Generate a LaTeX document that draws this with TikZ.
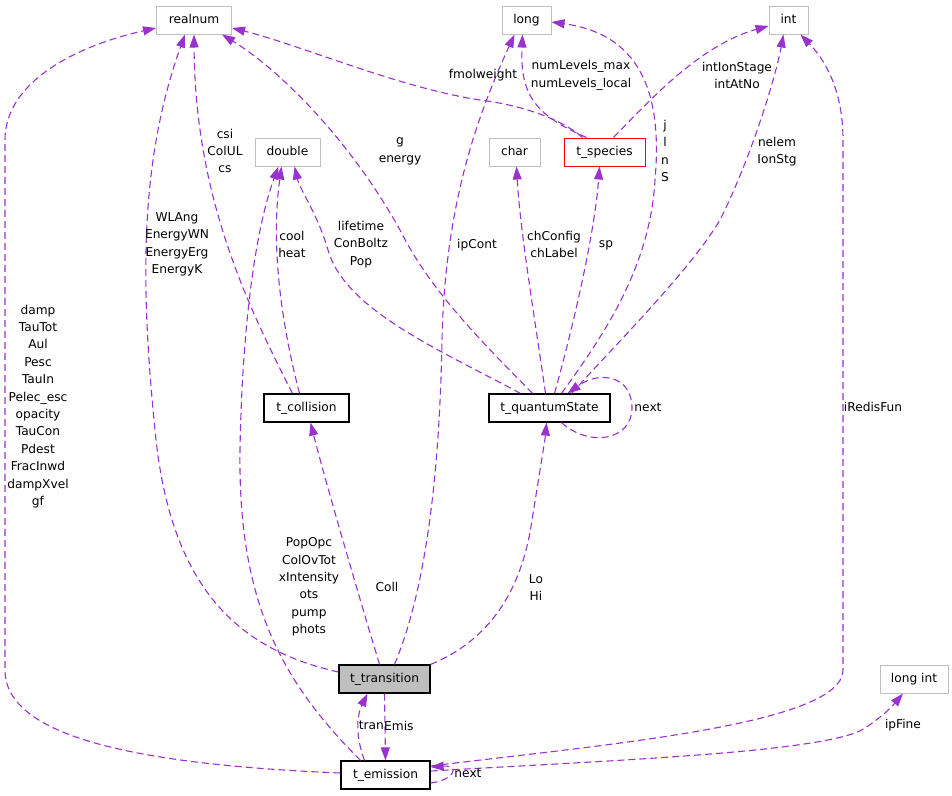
\documentclass[tikz,border=0pt]{standalone}
\usepackage{fontspec}
\setmainfont{DejaVu Sans}
\usetikzlibrary{arrows.meta}
\definecolor{edgecol}{HTML}{9A32CD}
\definecolor{boxgray}{HTML}{BFBFBF}

\begin{document}
\begin{tikzpicture}[x=1pt,y=-1pt,every node/.style={font=\fontsize{12.2}{17.4}\selectfont},
    cls/.style={draw=black,line width=1.2pt,minimum height=28pt,inner sep=0pt,text height=9pt,text depth=2.5pt},
    prim/.style={draw=boxgray,line width=1pt,minimum height=28pt,inner sep=0pt,text height=9pt,text depth=2.5pt},
    ref/.style={draw=edgecol,dash pattern=on 7pt off 4pt,line width=1.1pt,-{Triangle[length=13pt,width=9pt]}},
    lbl/.style={align=center,inner sep=0pt}]
    \useasboundingbox (0,0) rectangle (952,795);
    \node[prim,minimum width=75pt] (realnum) at (194,20) {realnum};
    \node[prim,minimum width=49pt] (tlong) at (526.5,20) {long};
    \node[prim,minimum width=39pt] (tint) at (788.5,20) {int};
    \node[prim,minimum width=65pt] (tdouble) at (287.5,152) {double};
    \node[prim,minimum width=51pt] (tchar) at (514.5,152) {char};
    \node[prim,draw=red,minimum width=81pt] (species) at (604.5,152) {t\_species};
    \node[cls,minimum width=85pt] (collision) at (306.5,408) {t\_collision};
    \node[cls,minimum width=121pt] (qstate) at (549.5,408) {t\_quantumState};
    \node[cls,fill=boxgray,minimum width=91pt] (transition) at (384.5,679) {t\_transition};
    \node[cls,minimum width=89pt] (emission) at (385.5,775) {t\_emission};
    \node[prim,minimum width=68pt] (longint) at (914,679) {long int};
    \draw[ref] ([yshift=2pt]emission.west) .. controls (150,765) and (5,740) .. (5,670) -- (5,140) .. controls (5,80) and (80,45) .. ([yshift=-8pt]realnum.west);
    \draw[ref] ([yshift=7pt]transition.west) .. controls (240,650) and (170,590) .. (155,430) .. controls (140,280) and (140,160) .. ([xshift=-9pt]realnum.south);
    \draw[ref] ([xshift=-14pt]collision.north) .. controls (250,310) and (195,200) .. (realnum.south);
    \draw[ref] ([xshift=-7pt]collision.north) .. controls (283,330) and (270,250) .. ([xshift=-6pt]tdouble.south);
    \draw[ref] ([xshift=-17pt]qstate.north) .. controls (480,340) and (430,290) .. (400,230) .. controls (350,140) and (280,70) .. ([xshift=28pt]realnum.south);
    \draw[ref] ([xshift=-22pt]species.north) .. controls (560,118) and (520,105) .. (480,100) .. controls (400,88) and (300,45) .. ([yshift=-8pt]realnum.east);
    \draw[ref] ([xshift=-25pt]emission.north) .. controls (280,680) and (238,600) .. (240,450) .. controls (242,330) and (255,230) .. ([xshift=-9pt]tdouble.south);
    \draw[ref] ([xshift=-29pt]qstate.north) .. controls (440,350) and (345,310) .. (328,250) .. controls (318,215) and (300,190) .. ([xshift=7pt]tdouble.south);
    \draw[ref] ([xshift=10pt]transition.north) .. controls (430,580) and (440,450) .. (442,340) .. controls (445,200) and (480,110) .. ([xshift=-12pt]tlong.south);
    \draw[ref] ([xshift=-18pt]species.north) .. controls (535,115) and (520,95) .. ([xshift=-4pt]tlong.south);
    \draw[ref] ([xshift=12pt]qstate.north) .. controls (600,340) and (650,270) .. (655,180) .. controls (662,100) and (645,35) .. ([yshift=-2pt]tlong.east);
    \draw[ref] ([xshift=-4pt]qstate.north) .. controls (535,320) and (520,230) .. ([xshift=2pt]tchar.south);
    \draw[ref] ([xshift=5pt]qstate.north) .. controls (575,320) and (595,230) .. ([xshift=-5pt]species.south);
    \draw[ref] ([xshift=9pt]species.north) .. controls (650,100) and (700,45) .. ([yshift=-6pt]tint.west);
    \draw[ref] ([xshift=22pt]qstate.north) .. controls (620,340) and (690,270) .. (720,220) .. controls (750,160) and (775,80) .. ([xshift=-5pt]tint.south);
    \draw[ref] ([yshift=9pt]emission.east) .. controls (600,745) and (843,725) .. (843,670) -- (843,140) .. controls (843,90) and (825,60) .. ([xshift=12pt]tint.south);
    \draw[ref] ([yshift=4pt]emission.east) .. controls (620,760) and (830,752) .. (865,728) .. controls (885,715) and (895,703) .. ([xshift=-11pt]longint.south);
    \draw[ref] ([xshift=12pt]qstate.south) .. controls (590,448) and (632,440) .. (632,408) .. controls (632,376) and (600,370) .. ([xshift=18pt]qstate.north);
    \draw[ref] ([xshift=-5pt]transition.north) .. controls (360,600) and (325,480) .. ([xshift=4pt]collision.south);
    \draw[ref] (transition.north east) .. controls (490,640) and (522,590) .. (532,520) .. controls (540,470) and (545,440) .. ([xshift=-3pt]qstate.south);
    \draw[ref] ([xshift=-21pt]emission.north) .. controls (355,735) and (357,715) .. ([xshift=-17pt]transition.south);
    \draw[ref] (transition.south) -- (emission.north);
    \draw[ref] ([yshift=-8pt]emission.east) .. controls (455,780) and (460,765) .. ([yshift=8pt]emission.east);
    \node[lbl] (lbEmisReal) at (38,406.5) {damp\\TauTot\\Aul\\Pesc\\TauIn\\Pelec\_esc\\opacity\\TauCon\\Pdest\\FracInwd\\dampXvel\\gf};
    \node[lbl] (lbTransReal) at (177,244.5) {WLAng\\EnergyWN\\EnergyErg\\EnergyK};
    \node[lbl] (lbCollReal) at (225,151) {csi\\ColUL\\cs};
    \node[lbl] (lbCollDouble) at (292,244.5) {cool\\heat};
    \node[lbl] (lbQsReal) at (400,151.5) {g\\energy};
    \node[lbl] (lbSpReal) at (483,75) {fmolweight};
    \node[lbl] (lbEmisDouble) at (309,587) {PopOpc\\ColOvTot\\xIntensity\\ots\\pump\\phots};
    \node[lbl] (lbQsDouble) at (361,244.5) {lifetime\\ConBoltz\\Pop};
    \node[lbl] (lbTransLong) at (477,245) {ipCont};
    \node[lbl] (lbSpLong) at (581,75.5) {numLevels\_max\\numLevels\_local};
    \node[lbl] (lbQsLong) at (665,151) {j\\l\\n\\S};
    \node[lbl] (lbQsChar) at (554,244.5) {chConfig\\chLabel};
    \node[lbl] (lbQsSp) at (606,245) {sp};
    \node[lbl] (lbSpInt) at (737,75.5) {intIonStage\\intAtNo};
    \node[lbl] (lbQsInt) at (777,151.5) {nelem\\IonStg};
    \node[lbl] (lbEmisInt) at (873,407) {iRedisFun};
    \node[lbl] (lbQsNext) at (648,407) {next};
    \node[lbl] (lbColl) at (387,587) {Coll};
    \node[lbl] (lbLoHi) at (536,587.5) {Lo\\Hi};
    \node[lbl,anchor=east] (lbTran) at (384,725.5) {tran};
    \node[lbl,anchor=west] (lbEmis) at (384,725.5) {Emis};
    \node[lbl] (lbFine) at (903,725.5) {ipFine};
    \node[lbl] (lbEmisNext) at (468,773.5) {next};
\end{tikzpicture}
\end{document}
